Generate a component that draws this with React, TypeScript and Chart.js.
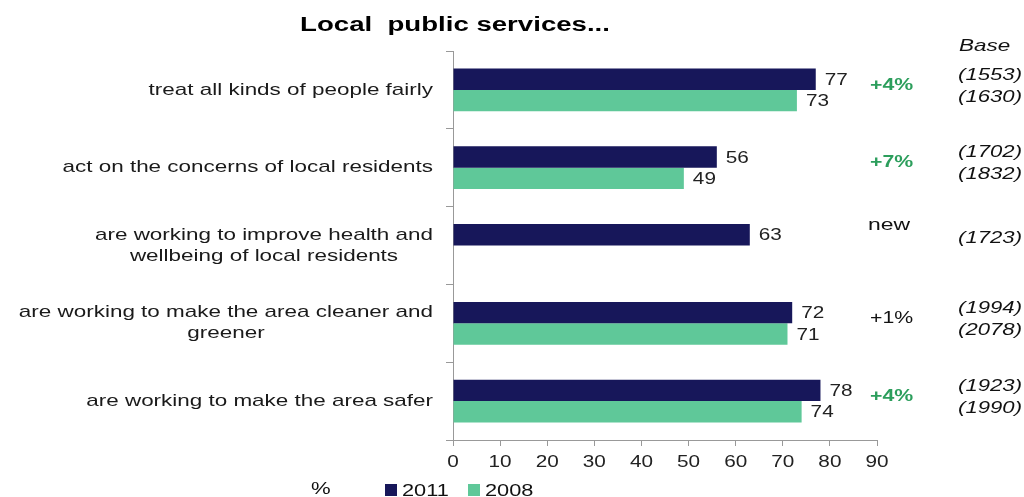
import React, { useEffect, useRef } from "react";
import { Chart, registerables } from "chart.js";

Chart.register(...registerables);

const title = "Local  public services...";
const categories: string[][] = [
  ["treat all kinds of people fairly"],
  ["act on the concerns of local residents"],
  ["are working to improve health and", "wellbeing of local residents"],
  ["are working to make the area cleaner and", "greener"],
  ["are working to make the area safer"],
];
const values2011: (number | null)[] = [77, 56, 63, 72, 78];
const values2008: (number | null)[] = [73, 49, null, 71, 74];
const changes: string[] = ["+4%", "+7%", "new", "+1%", "+4%"];
const changeSignificant: boolean[] = [true, true, false, false, true];
const base2011: string[] = ["(1553)", "(1702)", "(1723)", "(1994)", "(1923)"];
const base2008: string[] = ["(1630)", "(1832)", "", "(2078)", "(1990)"];
const xTicks = { min: 0, max: 90, step: 10 };
const seriesNames = ["2011", "2008"];

const NAVY = "#17175a";
const GREEN = "#5fc899";
const FONT = '"Liberation Sans", Arial, sans-serif';

// draws horizontally stretched text (the reference's lettering is wide)
function text(
  ctx: CanvasRenderingContext2D,
  s: string,
  x: number,
  y: number,
  align: CanvasTextAlign,
  sx: number
) {
  ctx.save();
  ctx.translate(x, y);
  ctx.scale(sx, 1);
  ctx.textAlign = align;
  ctx.fillText(s, 0, 0);
  ctx.restore();
}

const overlay = {
  id: "overlay",
  afterDraw(chart: any) {
    const ctx = chart.ctx as CanvasRenderingContext2D;
    const ys = chart.scales.y;
    const xs = chart.scales.x;
    ctx.save();
    ctx.textBaseline = "middle";
    // title
    ctx.font = `bold 20px ${FONT}`;
    ctx.fillStyle = "#000";
    text(ctx, title, 455, 25, "center", 1.38);

    // category labels
    const SX = 1.32;
    ctx.font = `17px ${FONT}`;
    ctx.fillStyle = "#1a1a1a";
    const labelRight = chart.chartArea.left - 20;
    categories.forEach((lines, i) => {
      const cy = ys.getPixelForValue(i);
      const lh = 21;
      const widest = Math.max(...lines.map((l) => ctx.measureText(l).width)) * SX;
      lines.forEach((line, j) => {
        const ly = cy + (j - (lines.length - 1) / 2) * lh;
        if (lines.length === 1) {
          text(ctx, line, labelRight, ly, "right", SX);
        } else {
          text(ctx, line, labelRight - widest / 2, ly, "center", SX);
        }
      });
    });

    // x tick labels
    ctx.font = `17px ${FONT}`;
    ctx.fillStyle = "#222";
    xs.ticks.forEach((t: any) => {
      text(ctx, String(t.value), xs.getPixelForValue(t.value), 462, "center", 1.22);
    });

    // value labels
    ctx.font = `17px ${FONT}`;
    ctx.fillStyle = "#222";
    [0, 1].forEach((di) => {
      const meta = chart.getDatasetMeta(di);
      const data = chart.data.datasets[di].data;
      meta.data.forEach((bar: any, i: number) => {
        if (data[i] == null) return;
        text(ctx, String(data[i]), bar.x + 9, bar.y + 1, "left", 1.22);
      });
    });

    // change column
    categories.forEach((_, i) => {
      const cy = ys.getPixelForValue(i);
      if (changeSignificant[i]) {
        ctx.font = `bold 17px ${FONT}`;
        ctx.fillStyle = "#2c9e5c";
      } else {
        ctx.font = `17px ${FONT}`;
        ctx.fillStyle = "#111";
      }
      const isNew = base2008[i] === "";
      text(ctx, changes[i], changes[i] === "new" ? 868 : 870, isNew ? cy - 20 : cy - 5, "left", isNew ? 1.35 : 1.25);
    });

    // base column
    ctx.font = `italic 17px ${FONT}`;
    ctx.fillStyle = "#111";
    text(ctx, "Base", 959, 46, "left", 1.32);
    categories.forEach((_, i) => {
      const cy = ys.getPixelForValue(i);
      if (base2008[i] === "") {
        text(ctx, base2011[i], 1022, cy - 7, "right", 1.3);
      } else {
        text(ctx, base2011[i], 1022, cy - 15, "right", 1.3);
        text(ctx, base2008[i], 1022, cy + 7, "right", 1.3);
      }
    });

    // legend
    ctx.font = `17px ${FONT}`;
    ctx.fillStyle = "#111";
    text(ctx, "%", 311, 489, "left", 1.3);
    const colors = [NAVY, GREEN];
    const lx = [385, 468];
    seriesNames.forEach((n, k) => {
      ctx.fillStyle = colors[k];
      ctx.fillRect(lx[k], 484, 12, 12);
      ctx.fillStyle = "#111";
      text(ctx, n, lx[k] + 17, 491, "left", 1.28);
    });
    ctx.restore();
  },
};

export default function App() {
  const ref = useRef<HTMLCanvasElement | null>(null);
  useEffect(() => {
    if (!ref.current) return;
    const chart = new Chart(ref.current, {
      type: "bar",
      data: {
        labels: categories.map((c) => c.join(" ")),
        datasets: [
          { label: seriesNames[0], data: values2011, backgroundColor: NAVY, barPercentage: 1, categoryPercentage: 0.55 },
          { label: seriesNames[1], data: values2008, backgroundColor: GREEN, barPercentage: 1, categoryPercentage: 0.55 },
        ],
      },
      options: {
        indexAxis: "y",
        animation: false,
        responsive: true,
        maintainAspectRatio: false,
        layout: { padding: { top: 51, right: 147, bottom: 0, left: 0 } },
        plugins: { legend: { display: false }, tooltip: { enabled: false }, title: { display: false } },
        scales: {
          x: {
            min: xTicks.min,
            max: xTicks.max,
            ticks: { stepSize: xTicks.step, display: false },
            grid: { drawOnChartArea: false, drawTicks: true, tickLength: 6, color: "#999" },
            border: { color: "#999" },
            afterFit: (s: any) => { s.height = 57; },
          },
          y: {
            ticks: { display: false },
            grid: { drawOnChartArea: false, drawTicks: true, tickLength: 7, color: "#999", offset: true },
            border: { color: "#999" },
            afterFit: (s: any) => { s.width = 453; },
          },
        },
      },
      plugins: [overlay],
    } as any);
    return () => chart.destroy();
  }, []);
  return (
    <div style={{ position: "absolute", left: 0, top: 0, width: 1024, height: 497, background: "#fff" }}>
      <canvas ref={ref} />
    </div>
  );
}
